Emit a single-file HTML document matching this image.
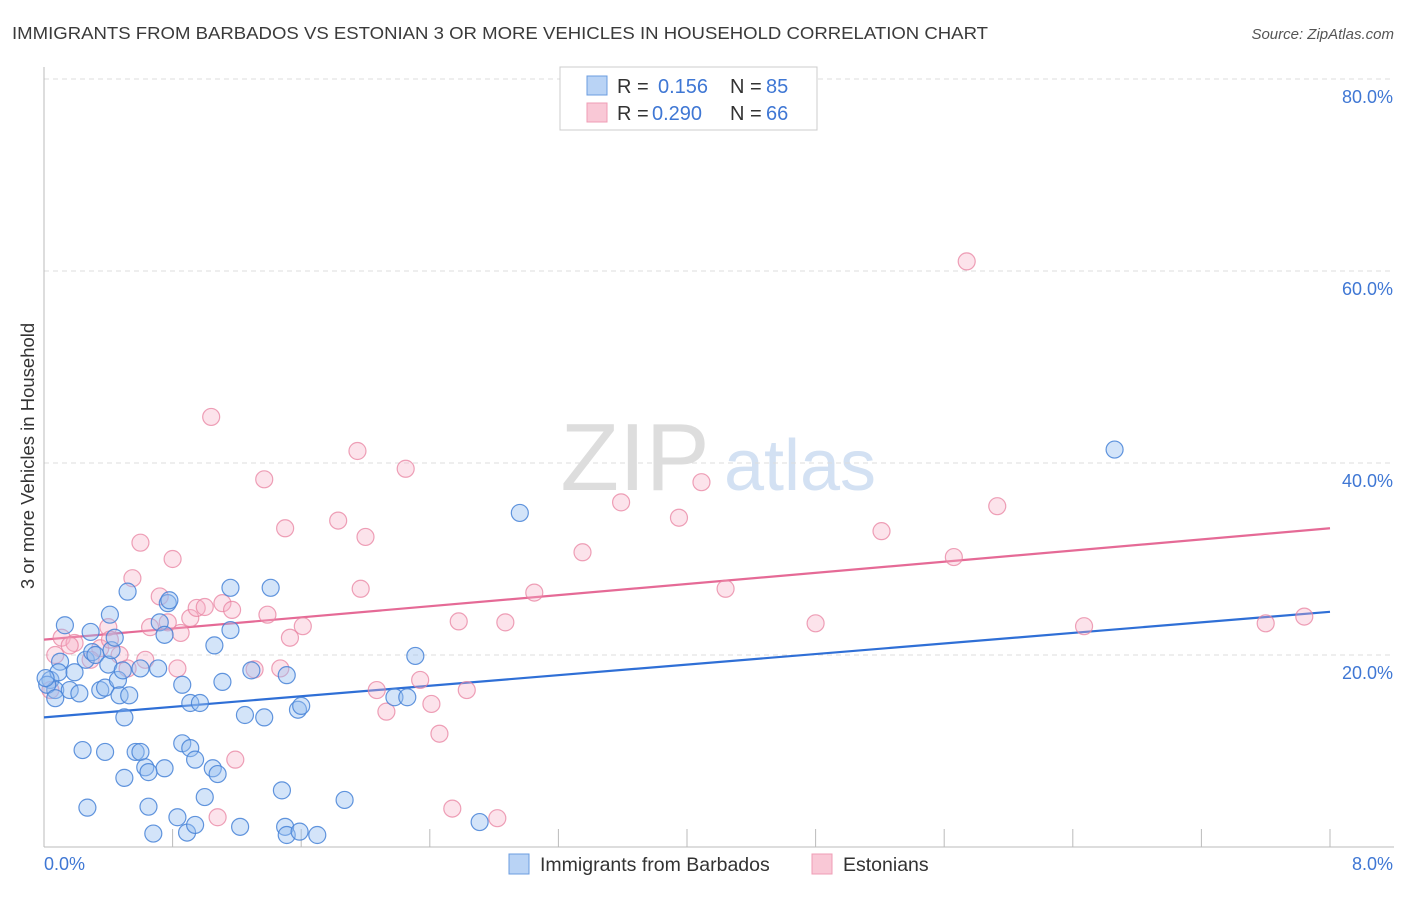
<!DOCTYPE html>
<html><head><meta charset="utf-8"><style>
body{margin:0;background:#fff;font-family:"Liberation Sans",sans-serif;}
svg text{font-family:"Liberation Sans",sans-serif;}
</style></head><body>
<svg id="chart" width="1406" height="892" xmlns="http://www.w3.org/2000/svg">
<text x="12" y="39" font-size="17.5" fill="#3a3a3a" textLength="976" lengthAdjust="spacingAndGlyphs">IMMIGRANTS FROM BARBADOS VS ESTONIAN 3 OR MORE VEHICLES IN HOUSEHOLD CORRELATION CHART</text>
<text x="1394" y="39" font-size="15" fill="#555" font-style="italic" text-anchor="end">Source: ZipAtlas.com</text>
<text transform="translate(34,456) rotate(-90)" font-size="18.5" fill="#333" text-anchor="middle">3 or more Vehicles in Household</text>
<g>
<text x="635" y="490" font-size="96" fill="#ddd" font-family="Liberation Serif" text-anchor="middle">ZIP</text>
<text x="800" y="490" font-size="72" fill="#d3e1f3" text-anchor="middle">atlas</text>
</g>
<g id="grid"></g><g id="axes"></g><g id="trends"></g><g id="pts"></g>
<g>
<rect x="560" y="67" width="257" height="63" fill="#fff" stroke="#ccc"/>
<rect x="587" y="76" width="20" height="19" fill="#b9d3f5" stroke="#6b9de0"/>
<text x="617" y="93" font-size="20" fill="#333">R = </text><text x="658" y="93" font-size="20" fill="#3f77d4">0.156</text>
<text x="730" y="93" font-size="20" fill="#333">N = </text><text x="766" y="93" font-size="20" fill="#3f77d4">85</text>
<rect x="587" y="103" width="20" height="19" fill="#f9c8d6" stroke="#ef9db5"/>
<text x="617" y="120" font-size="20" fill="#333">R = </text><text x="652" y="120" font-size="20" fill="#3f77d4">0.290</text>
<text x="730" y="120" font-size="20" fill="#333">N = </text><text x="766" y="120" font-size="20" fill="#3f77d4">66</text>
</g>
<g>
<rect x="509" y="854" width="20" height="20" fill="#b9d3f5" stroke="#6b9de0"/>
<text x="540" y="871" font-size="19.5" fill="#333">Immigrants from Barbados</text>
<rect x="812" y="854" width="20" height="20" fill="#f9c8d6" stroke="#ef9db5"/>
<text x="843" y="871" font-size="19.5" fill="#333">Estonians</text>
</g>
</svg>
<script>
const yTicks=[20,40,60,80];
const yTickLabels=["20.0%","40.0%","60.0%","80.0%"];
const xTickVals=[0,0.8,1.6,2.4,3.2,4.0,4.8,5.6,6.4,7.2,8.0];
const xEndLabels=["0.0%","8.0%"];
const blueX=[0.04,0.07,0.02,0.10,0.13,0.09,0.16,0.19,0.22,0.26,0.29,0.30,0.32,0.35,0.38,0.40,0.42,0.44,0.46,0.47,0.49,0.50,0.52,0.53,0.57,0.60,0.71,0.72,0.75,0.77,0.86,0.91,0.97,1.06,1.11,1.16,1.16,1.25,1.29,1.37,1.41,1.51,1.58,1.60,2.31,2.18,2.26,2.96,6.66,0.24,0.38,0.60,0.63,0.75,0.86,0.91,0.94,1.05,1.08,1.00,0.50,0.65,0.27,0.65,0.68,0.83,0.89,0.94,1.22,1.48,1.50,1.51,1.59,1.70,1.87,2.71,0.41,0.07,0.01,0.78];
const blueY=[17.4,16.35,16.9,19.3,23.1,18.2,16.35,18.2,16.0,19.5,22.4,20.3,20.0,16.35,16.6,19.0,20.5,21.8,17.4,15.8,18.4,13.5,26.6,15.8,9.9,18.6,18.6,23.4,22.1,25.4,16.9,15.0,15.0,21.0,17.2,22.6,27.0,13.75,18.4,13.5,27.0,17.9,14.3,14.7,19.9,15.6,15.6,34.8,41.4,10.1,9.9,9.9,8.3,8.2,10.8,10.3,9.1,8.2,7.6,5.2,7.2,7.8,4.1,4.2,1.4,3.1,1.5,2.3,2.1,5.9,2.1,1.25,1.6,1.25,4.9,2.6,24.2,15.5,17.6,25.7];
const pinkX=[5.74,1.04,1.37,1.95,2.25,1.50,1.83,2.00,0.60,0.80,0.55,0.72,0.66,0.77,0.91,0.95,1.00,1.11,1.17,1.39,1.53,1.61,0.85,0.83,1.31,1.47,1.97,2.07,2.13,2.34,2.41,2.46,2.54,2.63,2.82,2.58,2.87,3.05,3.35,3.59,3.95,4.09,4.24,4.80,5.21,5.66,5.93,6.47,7.60,7.84,1.19,1.08,0.11,0.19,0.35,0.40,0.47,0.52,0.07,0.04,0.29,0.41,0.63,0.16];
const pinkY=[61.0,44.8,38.3,41.25,39.4,33.2,34.0,32.3,31.7,30.0,28.0,26.1,22.9,23.4,23.85,24.9,25.0,25.4,24.7,24.2,21.8,23.0,22.3,18.6,18.5,18.6,26.9,16.35,14.1,17.4,14.9,11.8,4.0,16.35,3.0,23.5,23.4,26.5,30.7,35.9,34.3,38.0,26.9,23.3,32.9,30.2,35.5,23.0,23.3,24.0,9.1,3.1,21.8,21.25,20.7,22.9,20.0,18.6,20.0,16.35,19.5,21.6,19.5,21.0];
const trendStart=[13.5,21.6];
const trendEnd=[24.5,33.2];
const NS="http://www.w3.org/2000/svg";
const X=v=>44+v/8*1286, Y=v=>847-v/80*768;
function mk(tag,attrs,parent){const e=document.createElementNS(NS,tag);for(const k in attrs)e.setAttribute(k,attrs[k]);document.getElementById(parent).appendChild(e);return e;}
yTicks.forEach((t,i)=>{
 const l=mk('line',{x1:44,x2:1394,y1:Y(t),y2:Y(t),stroke:'#ddd','stroke-dasharray':'5,4'},'grid');
 
 
 const tx=mk('text',{x:1393,y:Y(t)+24,'font-size':18,fill:'#3f77d4','text-anchor':'end'},'grid');tx.textContent=yTickLabels[i];
 
 
});
const ax=mk('line',{x1:44,x2:1394,y1:847,y2:847,stroke:'#bbb'},'axes');


const ay=mk('line',{x1:44,x2:44,y1:67,y2:847,stroke:'#bbb'},'axes');


xTickVals.forEach(v=>{const t=mk('line',{x1:X(v),x2:X(v),y1:847,y2:v===0?847:829,stroke:'#bbb'},'axes');
 
 });
const xl0=mk('text',{x:44,y:870,'font-size':18,fill:'#3f77d4'},'axes');xl0.textContent=xEndLabels[0];


const xl1=mk('text',{x:1393,y:870,'font-size':18,fill:'#3f77d4','text-anchor':'end'},'axes');xl1.textContent=xEndLabels[1];


function pts(xs,ys,fill,stroke,name){xs.forEach((x,i)=>{const c=mk('circle',{cx:X(x),cy:Y(ys[i]),r:8.5,fill:fill,stroke:stroke,'stroke-width':1.2},'pts');
 
 });}
pts(pinkX,pinkY,'rgba(246,176,198,0.35)','rgba(232,130,160,0.75)','estonians-point');
pts(blueX,blueY,'rgba(150,190,240,0.42)','rgba(70,130,215,0.85)','barbados-point');
const tb=mk('line',{x1:X(0),y1:Y(trendStart[0]),x2:X(8),y2:Y(trendEnd[0]),stroke:'#2f6fd6','stroke-width':2.2},'trends');


const tp=mk('line',{x1:X(0),y1:Y(trendStart[1]),x2:X(8),y2:Y(trendEnd[1]),stroke:'#e56a96','stroke-width':2.2},'trends');


</script>
</body></html>
